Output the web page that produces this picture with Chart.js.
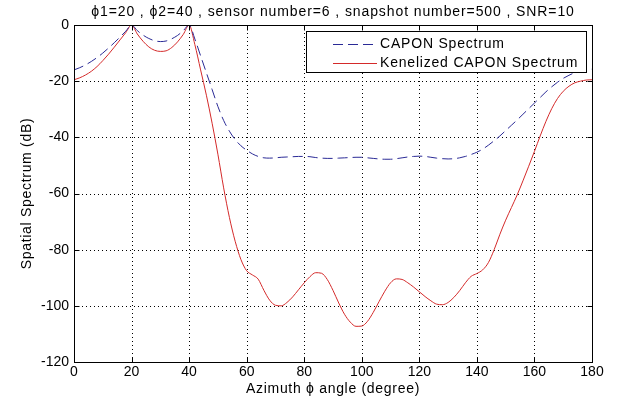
<!DOCTYPE html>
<html><head><meta charset="utf-8">
<script src="https://cdn.jsdelivr.net/npm/chart.js@4"></script>
<style>html,body{margin:0;padding:0;background:#fff}canvas{display:block}</style>
</head><body>
<div style="width:620px;height:401px"><canvas id="c" width="620" height="401"></canvas></div>
<script>
const angles=[0,2,4,6,8,10,12,14,16,18,20,22,24,26,28,30,32,34,36,38,40,42,44,46,48,50,52,54,56,58,60,62,64,66,68,70,72,74,76,78,80,82,84,86,88,90,92,94,96,98,100,102,104,106,108,110,112,114,116,118,120,122,124,126,128,130,132,134,136,138,140,142,144,146,148,150,152,154,156,158,160,162,164,166,168,170,172,174,176,178,180];
const caponDb=[-16,-15.2,-14.2,-13,-11.6,-10,-8.2,-6.3,-4.3,-2.2,0,-2,-3.6,-4.8,-5.6,-5.9,-5.7,-4.9,-3.7,-2.0,0,-5,-11,-17,-23,-29,-34,-37.8,-40.8,-43,-44.6,-45.9,-46.8,-47.3,-47.4,-47.3,-47.1,-47,-46.9,-46.8,-46.8,-46.9,-47.2,-47.4,-47.5,-47.5,-47.4,-47.3,-47.2,-47.1,-47.1,-47.3,-47.5,-47.7,-47.8,-47.8,-47.6,-47.3,-47,-46.8,-46.7,-46.8,-47.1,-47.4,-47.6,-47.7,-47.6,-47.3,-46.8,-46.1,-45.3,-44.2,-42.8,-41.2,-39.5,-37.6,-35.7,-33.8,-31.8,-29.8,-27.8,-25.8,-23.8,-22,-20.4,-19,-17.9,-17,-16.4,-16,-15.7];
const kernelDb=[-19.5,-18.8,-17.8,-16.5,-14.8,-12.7,-10.4,-7.9,-5.3,-2.7,0,-3.2,-5.8,-7.8,-9.0,-9.4,-9.2,-8.0,-6.0,-3.3,0,-7,-16,-25,-35,-46,-58,-68.5,-77,-83.5,-87.5,-89,-90.5,-94.5,-98,-99.8,-100,-98.8,-96.8,-94.3,-91.8,-89.6,-88.2,-88.4,-90.6,-94.5,-99,-103,-105.8,-107.3,-107.2,-105.5,-102.3,-98.5,-94.8,-91.8,-90.4,-90.6,-91.8,-93.3,-95,-96.7,-98.2,-99.4,-99.6,-98.8,-97,-94.6,-91.8,-89.5,-88.5,-87.2,-84.6,-80,-74.5,-69.5,-65,-60.5,-55.5,-50.3,-45,-39.5,-34.3,-29.8,-26.2,-23.6,-21.8,-20.6,-20,-19.6,-19.5];
const xTicks=[0,20,40,60,80,100,120,140,160,180];
const yTicks=[-120,-100,-80,-60,-40,-20,0];
const seriesNames=['CAPON Spectrum','Kenelized CAPON Spectrum'];
const titleText='\u03D51=20 , \u03D52=40 , sensor number=6 , snapshot number=500 , SNR=10';
const xTitle='Azimuth \u03D5 angle (degree)';
const yTitle='Spatial Spectrum (dB)';

const FONT='"Liberation Sans", Arial, sans-serif';
const toPts=(ys)=>angles.map((a,i)=>({x:a,y:ys[i]}));

const frame={
  id:'frame',
  beforeDatasetsDraw(chart){
    const {ctx,chartArea:a,scales:{x,y}}=chart;
    ctx.save();
    ctx.strokeStyle='#000';ctx.lineWidth=1;ctx.setLineDash([1,3]);
    xTicks.forEach(v=>{if(v===0||v===180)return;const px=Math.round(x.getPixelForValue(v))+0.5;ctx.beginPath();ctx.moveTo(px,a.top);ctx.lineTo(px,a.bottom);ctx.stroke();});
    yTicks.forEach(v=>{if(v===0||v===-120)return;const py=Math.round(y.getPixelForValue(v))+0.5;ctx.beginPath();ctx.moveTo(a.left,py);ctx.lineTo(a.right,py);ctx.stroke();});
    ctx.restore();
  },
  afterDatasetsDraw(chart){
    const {ctx,chartArea:a,scales:{x,y}}=chart;
    ctx.save();
    ctx.strokeStyle='#000';ctx.lineWidth=1;ctx.setLineDash([]);
    const L=Math.round(a.left)+0.5,R=Math.round(a.right)+0.5,T=Math.round(a.top)+0.5,B=Math.round(a.bottom)+0.5;
    ctx.strokeRect(L,T,R-L,B-T);
    const tl=5;
    xTicks.forEach(v=>{const px=Math.round(x.getPixelForValue(v))+0.5;ctx.beginPath();ctx.moveTo(px,B);ctx.lineTo(px,B-tl);ctx.moveTo(px,T);ctx.lineTo(px,T+tl);ctx.stroke();});
    yTicks.forEach(v=>{const py=Math.round(y.getPixelForValue(v))+0.5;ctx.beginPath();ctx.moveTo(L,py);ctx.lineTo(L+tl,py);ctx.moveTo(R,py);ctx.lineTo(R-tl,py);ctx.stroke();});
    // titles
    ctx.fillStyle='#000';ctx.font='14px '+FONT;ctx.textAlign='center';ctx.textBaseline='middle';
    const cx=(a.left+a.right)/2;
    ctx.letterSpacing='0.9px';
    ctx.fillText(titleText,cx,12);
    ctx.letterSpacing='0.7px';
    ctx.fillText(xTitle,cx,389);
    ctx.save();ctx.translate(27,(a.top+a.bottom)/2);ctx.rotate(-Math.PI/2);ctx.fillText(yTitle,0,0);ctx.restore();
    // legend
    const lx=306.5,ly=31.5,lw=280,lh=41;
    ctx.fillStyle='#fff';ctx.fillRect(lx,ly,lw,lh);
    ctx.strokeStyle='#000';ctx.strokeRect(lx,ly,lw,lh);
    const rows=[44,63];
    chart.data.datasets.forEach((ds,i)=>{
      ctx.strokeStyle=ds.borderColor;ctx.lineWidth=ds.borderWidth;ctx.setLineDash(ds.borderDash||[]);
      ctx.beginPath();ctx.moveTo(333,rows[i]+0.5);ctx.lineTo(377,rows[i]+0.5);ctx.stroke();
      ctx.setLineDash([]);
      ctx.fillStyle='#000';ctx.textAlign='left';ctx.font='14px '+FONT;ctx.letterSpacing='0.8px';
      ctx.fillText(ds.label,380,rows[i]);
    });
    ctx.restore();
  }
};

new Chart(document.getElementById('c'),{
  type:'line',
  data:{datasets:[
    {label:seriesNames[0],data:toPts(caponDb),borderColor:'#2a2a96',borderWidth:1,borderDash:[10,5],pointRadius:0,fill:false,cubicInterpolationMode:'monotone'},
    {label:seriesNames[1],data:toPts(kernelDb),borderColor:'#d42a2a',borderWidth:1,pointRadius:0,fill:false,cubicInterpolationMode:'monotone'}
  ]},
  options:{
    responsive:false,devicePixelRatio:1,animation:false,
    layout:{padding:{left:0,right:28,top:25,bottom:0}},
    plugins:{legend:{display:false},tooltip:{enabled:false},title:{display:false}},
    scales:{
      x:{type:'linear',min:0,max:180,
        afterBuildTicks:s=>{s.ticks=xTicks.map(v=>({value:v}));},
        afterFit:s=>{s.height=39;},
        grid:{display:false,drawTicks:false},border:{display:false},
        ticks:{color:'#000',font:{family:FONT,size:14},padding:2,maxRotation:0,autoSkip:false}},
      y:{type:'linear',min:-120,max:0,
        afterBuildTicks:s=>{s.ticks=yTicks.map(v=>({value:v}));},
        afterFit:s=>{s.width=74;},
        grid:{display:false,drawTicks:false},border:{display:false},
        ticks:{color:'#000',font:{family:FONT,size:14},padding:5,autoSkip:false}}
    }
  },
  plugins:[frame]
});
</script>
</body></html>
